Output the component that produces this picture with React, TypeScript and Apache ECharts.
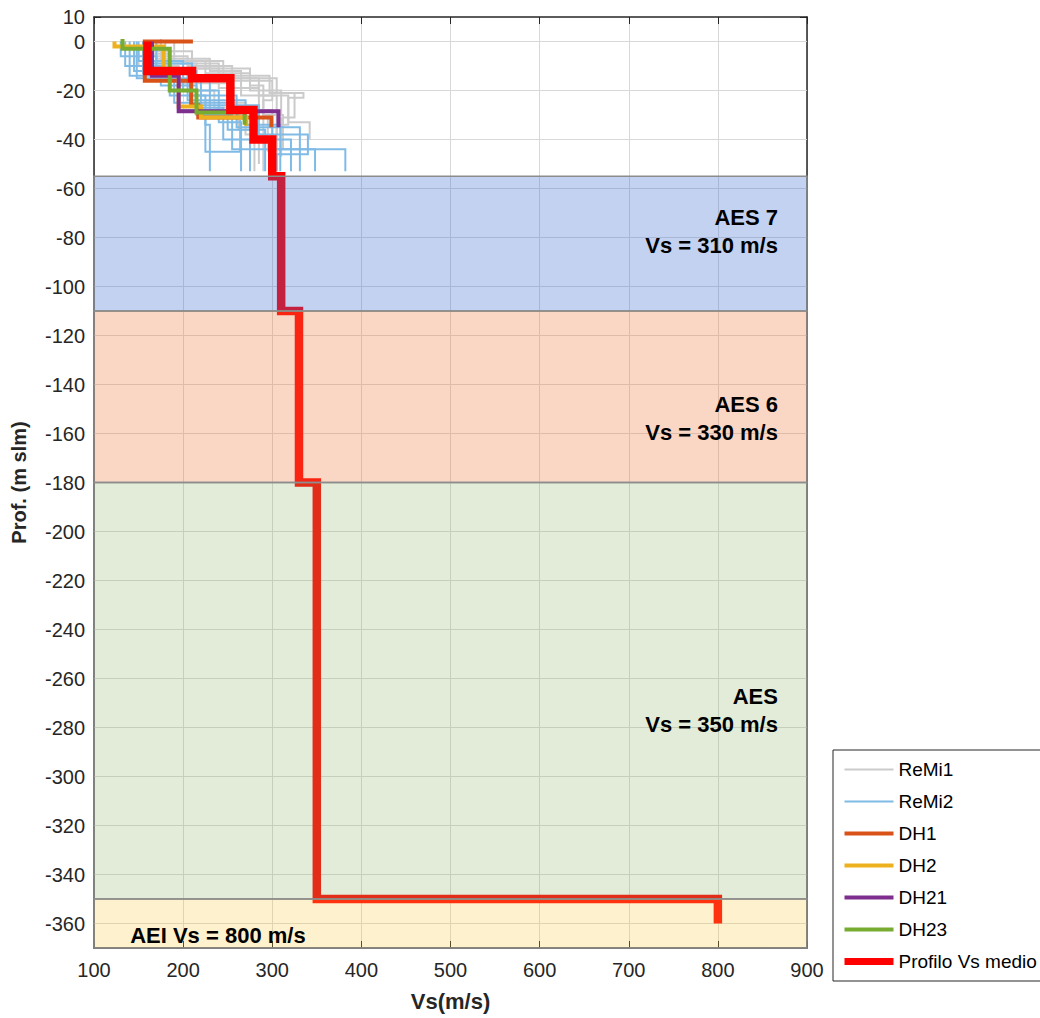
import React, { useEffect, useRef } from "react";
import * as echarts from "echarts";

// ---------- axis ticks ----------
const xTicks = [100, 200, 300, 400, 500, 600, 700, 800, 900];
const yTicks = [10, 0, -20, -40, -60, -80, -100, -120, -140, -160, -180, -200, -220, -240, -260, -280, -300, -320, -340, -360];
const yGridLines = [0, -20, -40, -60, -80, -100, -120, -140, -160, -180, -200, -220, -240, -260, -280, -300, -320, -340, -360];

// ---------- ReMi1 profiles (Vs, quota) ----------
const remi1Profiles: number[][][] = [
  [[165, 0], [165, -6], [205, -6], [205, -10], [255, -10], [255, -16], [300, -16], [300, -24], [290, -24], [290, -42]],
  [[175, 1], [175, -8], [225, -8], [225, -13], [275, -13], [275, -20], [310, -20], [310, -30], [295, -30], [295, -45]],
  [[155, 0], [155, -9], [215, -9], [215, -15], [305, -15], [305, -21], [335, -21], [335, -23], [318, -23], [318, -33], [342, -33], [342, -40]],
  [[160, 0], [160, -5], [185, -5], [185, -11], [240, -11], [240, -19], [285, -19], [285, -28], [300, -28], [300, -53]],
  [[170, 0], [170, -7], [230, -7], [230, -12], [265, -12], [265, -22], [318, -22], [318, -34], [305, -34], [305, -53]],
  [[150, -1], [150, -10], [195, -10], [195, -17], [250, -17], [250, -25], [270, -25], [270, -38], [290, -38], [290, -53]],
  [[180, 0], [180, -9], [240, -9], [240, -14], [297, -14], [297, -21], [325, -21], [325, -31], [310, -31], [310, -47]],
  [[145, 0], [145, -12], [200, -12], [200, -20], [235, -20], [235, -27], [262, -27], [262, -36], [280, -36], [280, -53]],
  [[190, 0], [190, -8], [245, -8], [245, -15], [285, -15], [285, -22], [305, -22], [305, -40], [285, -40], [285, -50]],
  [[160, 0], [160, -4], [210, -4], [210, -11], [275, -11], [275, -18], [290, -18], [290, -30], [312, -30], [312, -44]],
];

// ---------- ReMi2 profiles ----------
const remi2Profiles: number[][][] = [
  [[135, 0], [135, -10], [175, -10], [175, -18], [215, -18], [215, -30], [255, -30], [255, -44], [382, -44], [382, -53]],
  [[145, 0], [145, -12], [185, -12], [185, -22], [225, -22], [225, -34], [230, -34], [230, -53]],
  [[150, 0], [150, -8], [200, -8], [200, -20], [240, -20], [240, -33], [265, -33], [265, -53]],
  [[140, 0], [140, -14], [190, -14], [190, -25], [250, -25], [250, -36], [292, -36], [292, -53]],
  [[160, 0], [160, -11], [205, -11], [205, -24], [270, -24], [270, -34], [309, -34], [309, -53]],
  [[155, 0], [155, -13], [195, -13], [195, -28], [280, -28], [280, -40], [321, -40], [321, -53]],
  [[165, 0], [165, -9], [210, -9], [210, -22], [260, -22], [260, -35], [331, -35], [331, -53]],
  [[130, 0], [130, -6], [170, -6], [170, -16], [230, -16], [230, -31], [300, -31], [300, -44], [348, -44], [348, -53]],
  [[148, 0], [148, -15], [220, -15], [220, -27], [245, -27], [245, -40], [275, -40], [275, -53]],
  [[170, 0], [170, -12], [215, -12], [215, -26], [285, -26], [285, -38], [340, -38], [340, -46], [305, -46], [305, -53]],
  [[225, -32], [225, -45], [264, -45], [264, -32]],
];

// ---------- Down-hole profiles ----------
const dh1 = [[211, 0], [157, 0], [157, -16], [209, -16], [209, -26], [217, -26], [217, -31], [299, -31], [299, -35]];
const dh2 = [[123, 0], [123, -2], [178, -2], [178, -12], [195, -12], [195, -26.5], [220, -26.5], [220, -31], [271, -31], [271, -34.5]];
const dh21 = [[165, 0], [165, -14], [195, -14], [195, -28.5], [307, -28.5], [307, -35]];
const dh23 = [[132, 1], [132, -3], [185, -3], [185, -20], [215, -20], [215, -29], [269, -29], [269, -34]];

// ---------- Mean profile ----------
const vsMedio = [[160, 0], [160, -12], [210, -12], [210, -15], [253, -15], [253, -28], [279, -28], [279, -40], [300, -40], [300, -55], [310, -55], [310, -110], [330, -110], [330, -180], [350, -180], [350, -350], [800, -350], [800, -360]];

// ---------- Bands ----------
const bandTop = [-55, -110, -180, -350];
const bandBottom = [-110, -180, -350, -370];
const bandColors = ["rgba(60,107,210,0.30)", "rgba(240,120,60,0.30)", "rgba(140,180,100,0.25)", "rgba(250,200,60,0.25)"];
const bandTexts = ["AES 7\nVs = 310 m/s", "AES 6\nVs = 330 m/s", "AES\nVs = 350 m/s", "AEI Vs = 800 m/s"];
const bandTextX = [868, 868, 868, 140];
const bandTextY = [-77.6, -153.8, -273, -364.7];

const legendNames = ["ReMi1", "ReMi2", "DH1", "DH2", "DH21", "DH23", "Profilo Vs medio"];
const legendWidths = [2, 2, 4, 4, 4, 4, 7];

const FONT = "'Liberation Sans', Arial, Helvetica, sans-serif";
const AX = "#262626";

function lineSeries(name: string, data: number[][], color: string, width: number, z: number) {
  return {
    type: "line",
    name,
    data,
    symbol: "none",
    showSymbol: false,
    xAxisIndex: 0,
    yAxisIndex: 0,
    z,
    silent: true,
    lineStyle: { color, width, join: "miter" },
    itemStyle: { color },
  };
}

export default function App() {
  const ref = useRef<HTMLDivElement>(null);
  useEffect(() => {
    if (!ref.current) return;
    const chart = echarts.init(ref.current, undefined, { renderer: "svg" });

    const series: any[] = [];
    // horizontal grid lines
    series.push({
      type: "line",
      data: [],
      z: 1,
      silent: true,
      markLine: {
        silent: true,
        z: 1,
        symbol: ["none", "none"],
        label: { show: false },
        emphasis: { disabled: true },
        lineStyle: { color: "#d8d8d8", width: 1, type: "solid" },
        data: yGridLines.map((v) => ({ yAxis: v })),
      },
    });
    remi1Profiles.forEach((p) => series.push(lineSeries("ReMi1", p, "#cbcbcb", 2, 2)));
    remi2Profiles.forEach((p) => series.push(lineSeries("ReMi2", p, "#80bbe6", 2, 2)));
    series.push(lineSeries("DH1", dh1, "#d95319", 4, 3));
    series.push(lineSeries("DH2", dh2, "#edb120", 4, 3));
    series.push(lineSeries("DH21", dh21, "#7e2f8e", 4, 3));
    series.push(lineSeries("DH23", dh23, "#77ac30", 4, 3));
    series.push(lineSeries("Profilo Vs medio", vsMedio, "#ff0000", 8.5, 4));
    // bands (drawn above the lines, translucent)
    series.push({
      type: "line",
      data: [[xTicks[0], yTicks[0]]],
      symbol: "none",
      lineStyle: { width: 0 },
      z: 8,
      silent: true,
      markArea: {
        silent: true,
        z: 8,
        data: bandTop.map((t, i) => [
          {
            xAxis: xTicks[0],
            yAxis: t,
            itemStyle: { color: bandColors[i], borderColor: "#8c8c8c", borderWidth: 1.5 },
          },
          { xAxis: xTicks[xTicks.length - 1], yAxis: bandBottom[i] },
        ]),
      },
    });
    // band labels
    series.push({
      type: "scatter",
      z: 10,
      silent: true,
      symbolSize: 1,
      itemStyle: { color: "rgba(0,0,0,0)" },
      data: bandTexts.map((t, i) => ({
        value: [bandTextX[i], bandTextY[i]],
        label: {
          show: true,
          position: i < 3 ? "left" : "right",
          distance: 0,
          formatter: t,
          align: i < 3 ? "right" : "left",
          fontSize: 22,
          fontWeight: "bold",
          fontFamily: FONT,
          color: "#000000",
          opacity: 1,
          textBorderWidth: 0,
          lineHeight: 28,
        },
      })),
    });

    const option: any = {
      animation: false,
      backgroundColor: "#ffffff",
      textStyle: { fontFamily: FONT },
      grid: { left: 94, right: 233, top: 17, bottom: 70, containLabel: false },
      legend: {
        orient: "vertical",
        left: 833,
        top: 750,
        itemWidth: 49,
        itemHeight: 14,
        itemGap: 13,
        padding: [10, 8, 10, 8],
        borderColor: AX,
        borderWidth: 1,
        backgroundColor: "#ffffff",
        selectedMode: false,
        itemStyle: { opacity: 0, color: "rgba(0,0,0,0)", borderWidth: 0 },
        textStyle: { fontSize: 19, color: "#000", fontFamily: FONT },
        data: legendNames.map((n, i) => ({ name: n, lineStyle: { width: legendWidths[i] } })),
      },
      xAxis: [
        {
          type: "value",
          min: xTicks[0],
          max: xTicks[xTicks.length - 1],
          interval: 100,
          position: "bottom",
          name: "Vs(m/s)",
          nameLocation: "middle",
          nameGap: 42,
          nameTextStyle: { fontSize: 22, fontWeight: "bold", color: AX, fontFamily: FONT },
          axisLine: { show: true, onZero: false, lineStyle: { color: AX, width: 1.5 } },
          axisTick: { show: true, inside: true, length: 7, lineStyle: { color: AX, width: 1 } },
          axisLabel: { fontSize: 20, color: AX, margin: 12, fontFamily: FONT },
          splitLine: { show: true, lineStyle: { color: "#d8d8d8", width: 1 } },
        },
        {
          type: "value",
          min: xTicks[0],
          max: xTicks[xTicks.length - 1],
          interval: 100,
          position: "top",
          axisLine: { show: true, onZero: false, lineStyle: { color: AX, width: 1.5 } },
          axisTick: { show: true, inside: true, length: 7, lineStyle: { color: AX, width: 1 } },
          axisLabel: { show: false },
          splitLine: { show: false },
        },
      ],
      yAxis: [
        {
          type: "value",
          min: -370,
          max: 10,
          interval: 10,
          position: "left",
          name: "Prof. (m slm)",
          nameLocation: "middle",
          nameGap: 65,
          nameTextStyle: { fontSize: 20, fontWeight: "bold", color: AX, fontFamily: FONT },
          axisLine: { show: true, onZero: false, lineStyle: { color: AX, width: 1.5 } },
          axisTick: { show: true, inside: true, length: 7, customValues: yTicks, lineStyle: { color: AX, width: 1 } },
          axisLabel: {
            fontSize: 20,
            color: AX,
            margin: 9,
            fontFamily: FONT,
            customValues: yTicks,
            formatter: (v: number) => (yTicks.indexOf(v) >= 0 ? String(v) : ""),
          },
          splitLine: { show: false },
        },
        {
          type: "value",
          min: -370,
          max: 10,
          interval: 10,
          position: "right",
          axisLine: { show: true, onZero: false, lineStyle: { color: AX, width: 1.5 } },
          axisTick: { show: true, inside: true, length: 7, customValues: yTicks, lineStyle: { color: AX, width: 1 } },
          axisLabel: { show: false },
          splitLine: { show: false },
        },
      ],
      series,
    };
    chart.setOption(option);
    return () => chart.dispose();
  }, []);

  return (
    <div
      ref={ref}
      style={{ position: "absolute", left: 0, top: 0, width: 1040, height: 1018, background: "#fff" }}
    />
  );
}
